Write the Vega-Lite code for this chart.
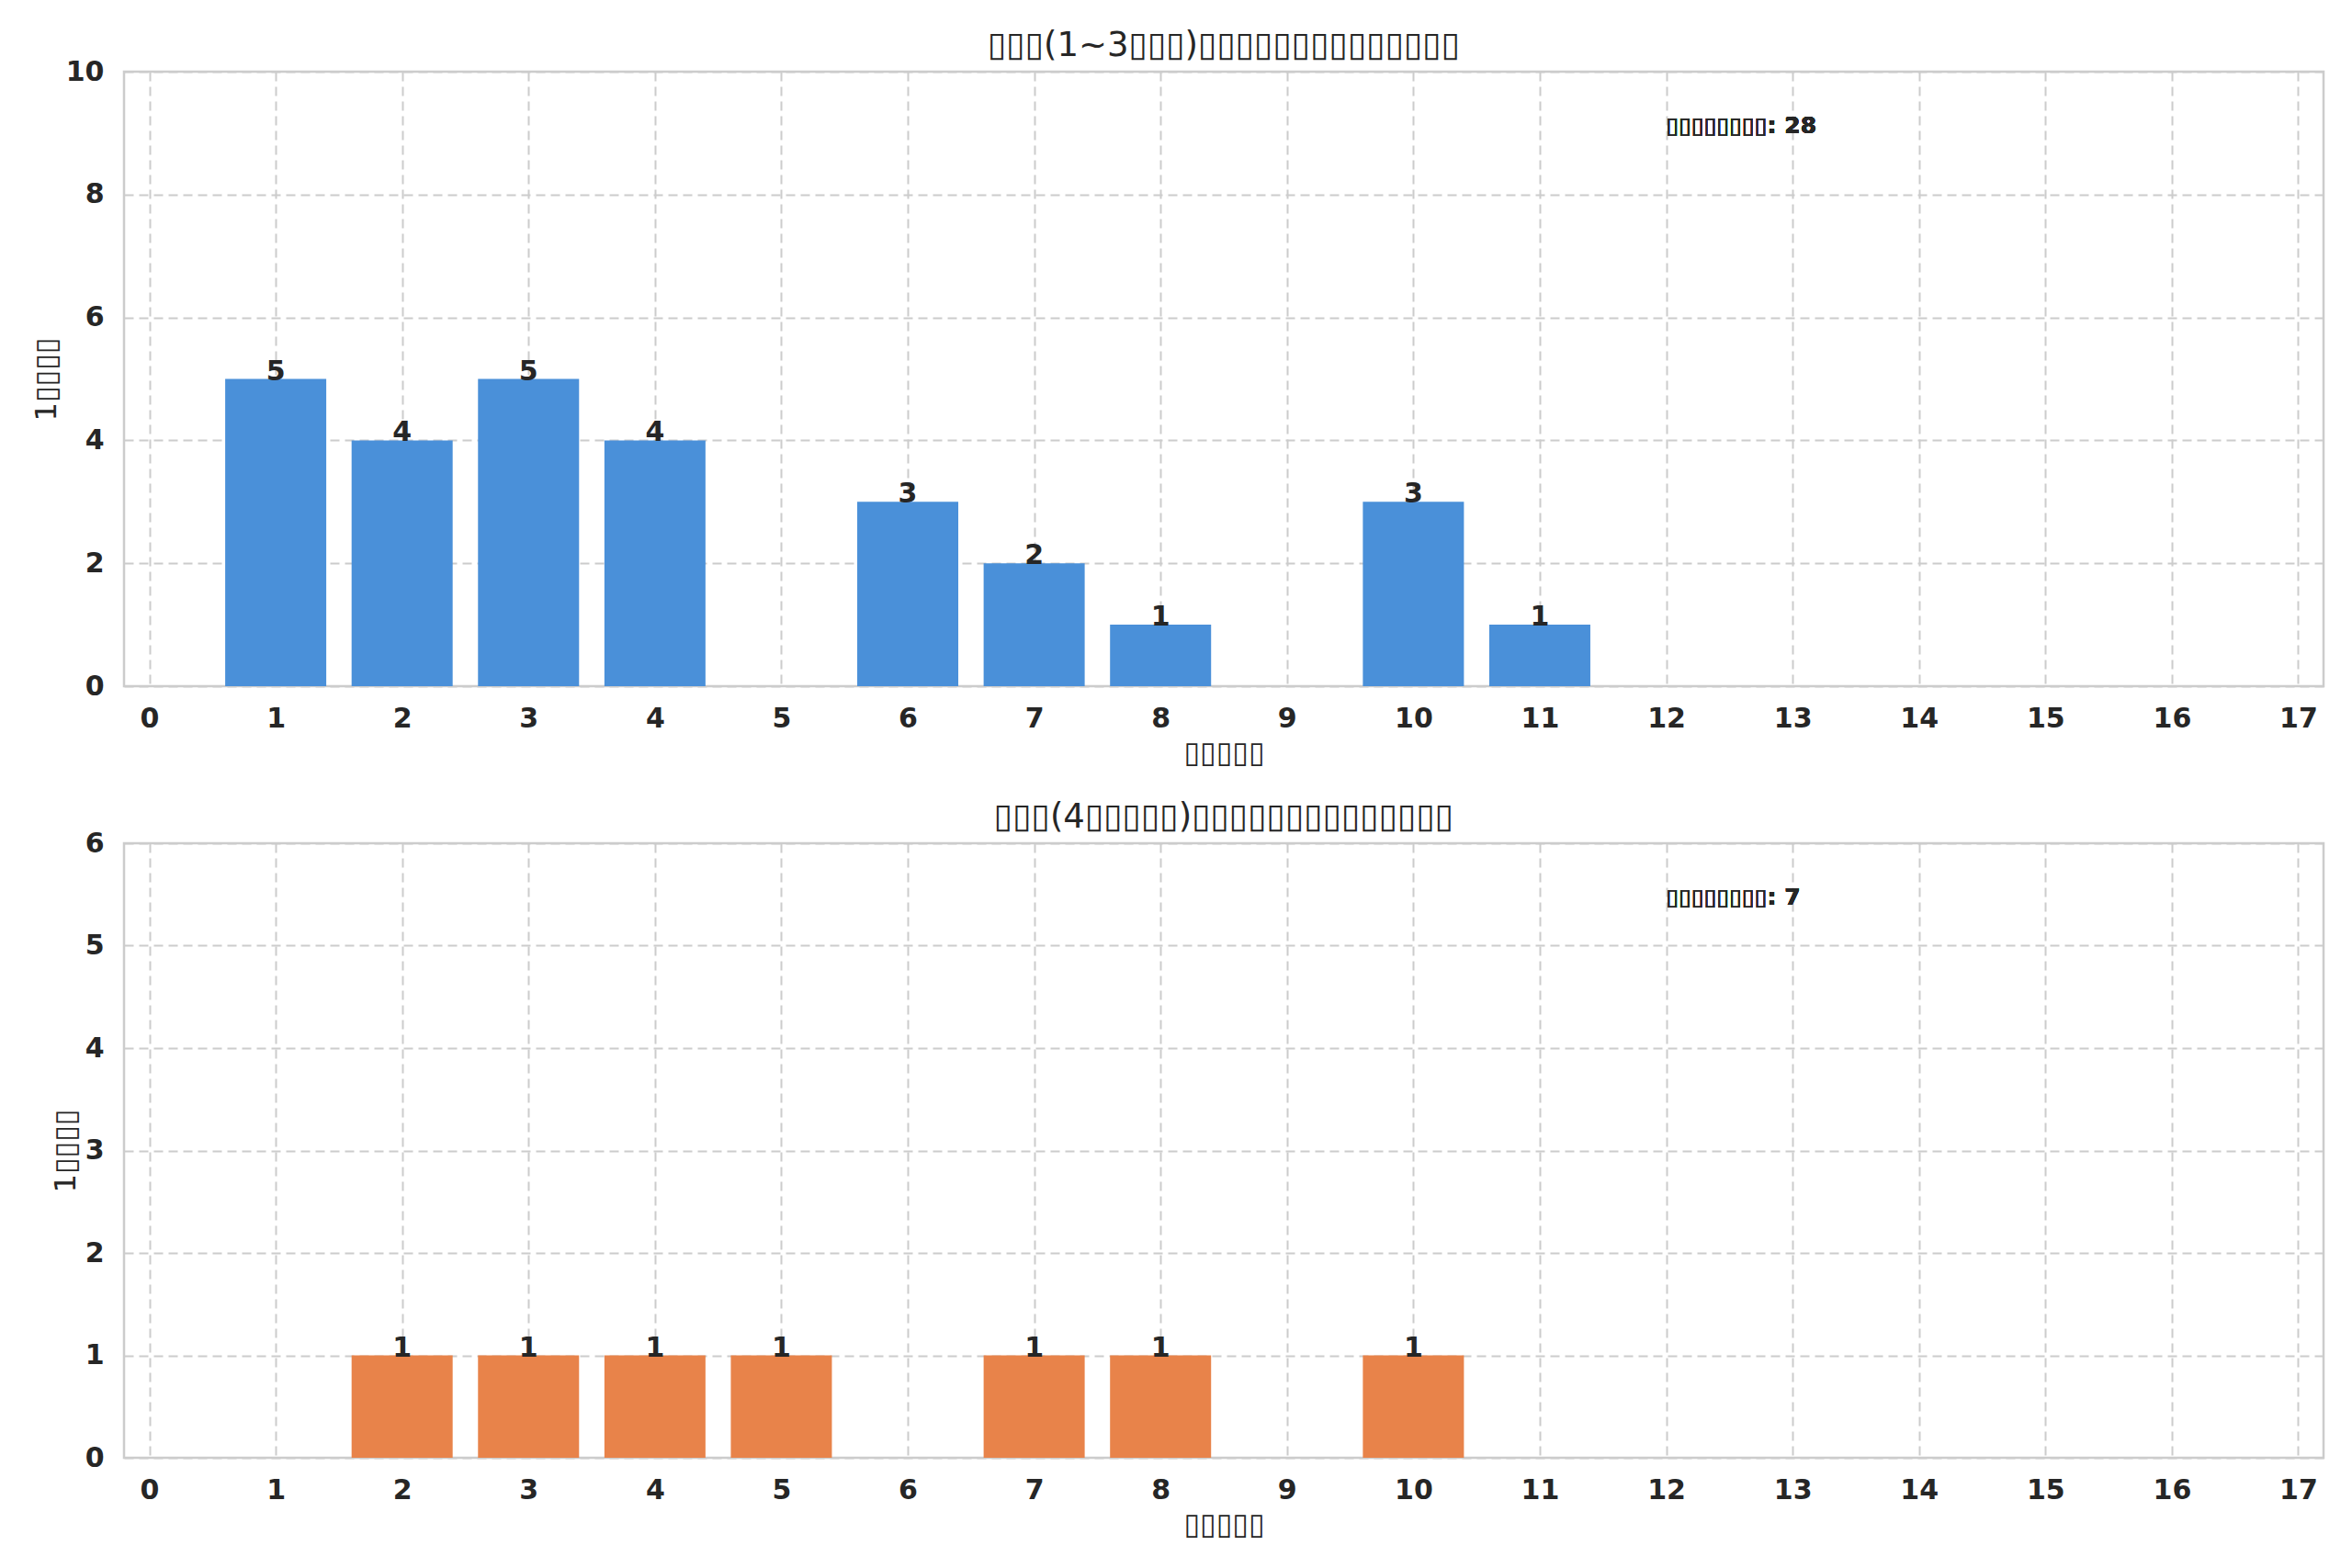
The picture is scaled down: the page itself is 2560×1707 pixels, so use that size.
{
  "$schema": "https://vega.github.io/schema/vega-lite/v6.json",
  "background": "white",
  "padding": {"left": 33, "top": 29, "right": 5, "bottom": 5},
  "spacing": 32,
  "config": {
    "font": "DejaVu Sans",
    "view": {"stroke": "#cccccc", "strokeWidth": 2.5},
    "axis": {
      "domain": false,
      "ticks": false,
      "grid": true,
      "gridColor": "#cccccc",
      "gridDash": [10, 6],
      "gridWidth": 2,
      "labelFont": "DejaVu Sans",
      "labelFontSize": 30,
      "labelFontWeight": "bold",
      "labelColor": "#262626",
      "labelPadding": 20,
      "titleFont": "DejaVu Sans",
      "titleFontSize": 32,
      "titleFontWeight": "normal",
      "titleColor": "#262626",
      "titlePadding": 7
    },
    "axisY": {"labelPadding": 22, "titlePadding": 4},
    "title": {"font": "DejaVu Sans", "fontSize": 37, "fontWeight": "normal", "color": "#262626", "offset": -6}
  },
  "vconcat": [
    {
      "width": 2394,
      "height": 669,
      "title": "▯▯▯(1~3▯▯▯)▯▯▯▯▯▯▯▯▯▯▯▯▯▯",
      "data": {
        "values": [
          {"month": 1, "count": 5},
          {"month": 2, "count": 4},
          {"month": 3, "count": 5},
          {"month": 4, "count": 4},
          {"month": 6, "count": 3},
          {"month": 7, "count": 2},
          {"month": 8, "count": 1},
          {"month": 10, "count": 3},
          {"month": 11, "count": 1}
        ]
      },
      "encoding": {
        "x": {
          "field": "month",
          "type": "quantitative",
          "scale": {"domain": [-0.2, 17.2], "nice": false, "zero": false, "padding": 0},
          "axis": {"values": [0, 1, 2, 3, 4, 5, 6, 7, 8, 9, 10, 11, 12, 13, 14, 15, 16, 17], "title": "▯▯▯▯▯"}
        },
        "y": {
          "field": "count",
          "type": "quantitative",
          "scale": {"domain": [0, 10], "nice": false},
          "axis": {"values": [0, 2, 4, 6, 8, 10], "title": "1▯▯▯▯"}
        }
      },
      "layer": [
        {"mark": {"type": "bar", "width": 110, "color": "#4a90d9"}},
        {
          "mark": {"type": "text", "baseline": "alphabetic", "dy": 1, "fontSize": 30, "fontWeight": "bold", "color": "#262626"},
          "encoding": {"text": {"field": "count", "type": "quantitative"}}
        },
        {
          "mark": {"type": "text", "align": "left", "baseline": "alphabetic", "fontSize": 25, "fontWeight": "bold", "color": "#262626"},
          "encoding": {
            "x": {"datum": 12},
            "y": {"datum": 9},
            "text": {"value": "▯▯▯▯▯▯▯▯: 28"}
          }
        }
      ]
    },
    {
      "width": 2394,
      "height": 669,
      "title": "▯▯▯(4▯▯▯▯▯)▯▯▯▯▯▯▯▯▯▯▯▯▯▯",
      "data": {
        "values": [
          {"month": 2, "count": 1},
          {"month": 3, "count": 1},
          {"month": 4, "count": 1},
          {"month": 5, "count": 1},
          {"month": 7, "count": 1},
          {"month": 8, "count": 1},
          {"month": 10, "count": 1}
        ]
      },
      "encoding": {
        "x": {
          "field": "month",
          "type": "quantitative",
          "scale": {"domain": [-0.2, 17.2], "nice": false, "zero": false, "padding": 0},
          "axis": {"values": [0, 1, 2, 3, 4, 5, 6, 7, 8, 9, 10, 11, 12, 13, 14, 15, 16, 17], "title": "▯▯▯▯▯"}
        },
        "y": {
          "field": "count",
          "type": "quantitative",
          "scale": {"domain": [0, 6], "nice": false},
          "axis": {"values": [0, 1, 2, 3, 4, 5, 6], "title": "1▯▯▯▯"}
        }
      },
      "layer": [
        {"mark": {"type": "bar", "width": 110, "color": "#e8834a"}},
        {
          "mark": {"type": "text", "baseline": "alphabetic", "dy": 1, "fontSize": 30, "fontWeight": "bold", "color": "#262626"},
          "encoding": {"text": {"field": "count", "type": "quantitative"}}
        },
        {
          "mark": {"type": "text", "align": "left", "baseline": "alphabetic", "fontSize": 25, "fontWeight": "bold", "color": "#262626"},
          "encoding": {
            "x": {"datum": 12},
            "y": {"datum": 5.4},
            "text": {"value": "▯▯▯▯▯▯▯▯: 7"}
          }
        }
      ]
    }
  ]
}
